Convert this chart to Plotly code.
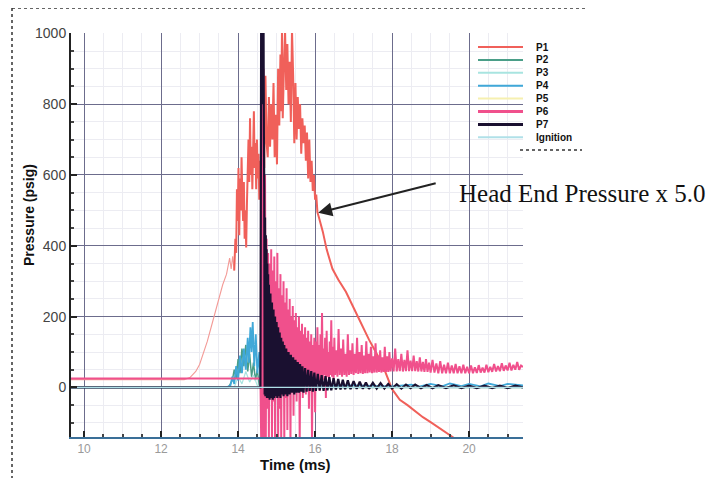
import plotly.graph_objects as go

# time (ms) / pressure (psig) pairs
p1_pts = [(9.66, 22), (12.6, 22), (12.75, 28), (12.9, 45), (13.0, 65), (13.1, 95), (13.2, 130),
          (13.3, 170), (13.4, 210), (13.5, 250), (13.6, 290), (13.7, 320), (13.78, 365), (13.82, 335),
          (13.86, 370), (13.9, 330), (13.93, 420), (13.95, 380), (13.97, 560), (13.99, 470), (14.01, 620),
          (14.03, 430), (14.05, 590), (14.07, 500), (14.09, 650), (14.11, 540), (14.13, 470), (14.15, 580),
          (14.17, 420), (14.19, 500), (14.21, 395), (14.23, 520), (14.25, 610), (14.27, 700), (14.29, 580),
          (14.31, 760), (14.33, 600), (14.35, 680), (14.37, 560), (14.39, 720), (14.41, 780), (14.43, 620),
          (14.45, 690), (14.47, 560), (14.49, 700), (14.51, 590), (14.53, 660), (14.55, 530), (14.57, 640),
          (14.59, 560), (14.62, 700), (14.65, 830), (14.68, 620), (14.71, 880), (14.74, 690), (14.77, 650),
          (14.8, 820), (14.83, 680), (14.86, 800), (14.89, 700), (14.92, 860), (14.95, 650), (14.98, 770),
          (15.01, 630), (15.04, 900), (15.07, 740), (15.1, 940), (15.12, 780), (15.14, 1010), (15.16, 760),
          (15.19, 900), (15.22, 1010), (15.25, 840), (15.28, 970), (15.31, 800), (15.34, 920), (15.37, 750),
          (15.4, 1010), (15.43, 880), (15.46, 690), (15.49, 860), (15.52, 700), (15.55, 820), (15.58, 730),
          (15.61, 800), (15.64, 660), (15.67, 760), (15.7, 690), (15.73, 740), (15.76, 640), (15.79, 720),
          (15.82, 590), (15.85, 700), (15.88, 580), (15.91, 640), (15.94, 555), (15.97, 600), (16.0, 530),
          (16.03, 545), (16.06, 495), (16.1, 480), (16.2, 440), (16.3, 390), (16.45, 335), (16.6, 305),
          (16.8, 270), (17.0, 225), (17.2, 180), (17.4, 135), (17.6, 95), (17.8, 50), (18.0, -5),
          (18.2, -35), (18.4, -50), (18.6, -68), (18.8, -84), (19.0, -98), (19.2, -113), (19.4, -127),
          (19.6, -142)]

p2_pts = [(9.66, 0), (13.75, 0), (13.85, 20), (13.9, 50), (13.95, 25), (14.0, 80), (14.05, 40),
          (14.1, 110), (14.15, 60), (14.2, 120), (14.25, 45), (14.3, 95), (14.35, 30), (14.4, 70),
          (14.45, 20), (14.5, 50), (14.55, 5), (14.6, 0), (21.4, 0)]

p3_pts = [(9.66, 0), (13.9, 0), (14.0, 30), (14.1, 10), (14.2, 45), (14.3, 15), (14.4, 35),
          (14.5, 5), (14.6, 0), (21.4, 0)]

p4_pts = [(9.66, 0), (13.7, 0), (13.8, 5), (13.85, 30), (13.9, 10), (13.95, 60), (14.0, 20),
          (14.05, 90), (14.1, 40), (14.15, 110), (14.2, 50), (14.25, 140), (14.28, 70), (14.32, 170),
          (14.35, 100), (14.38, 185), (14.42, 60), (14.46, 150), (14.5, 40), (14.55, 100), (14.58, 10),
          (14.6, 0), (15.0, 4), (16.0, 2), (17.0, 6), (18.0, 3), (18.5, 8), (18.7, 2), (19.0, 10),
          (19.3, 3), (19.5, 11), (19.8, 4), (20.0, 10), (20.3, 3), (20.5, 11), (20.8, 4), (21.0, 10),
          (21.4, 6)]

p5_pts = [(9.66, 0), (21.4, 0)]

p6_pts = [(9.66, 25), (14.58, 25), (14.6, -150), (14.62, 1050), (14.64, -150), (14.66, 900),
          (14.68, -150), (14.7, 600), (14.72, -150), (14.74, 420), (14.76, -60), (14.78, 380),
          (14.8, -150), (14.82, 350), (14.84, -20), (14.86, 390), (14.88, -150), (14.9, 330),
          (14.92, -40), (14.94, 370), (14.96, -150), (14.98, 300), (15.0, -30), (15.02, 380),
          (15.04, -150), (15.06, 280), (15.08, -60), (15.1, 320), (15.12, -150), (15.14, 260),
          (15.16, -20), (15.18, 300), (15.2, -150), (15.22, 240), (15.24, -30), (15.26, 280),
          (15.28, -120), (15.3, 220), (15.32, 0), (15.34, 250), (15.36, -150), (15.38, 200),
          (15.4, 10), (15.42, 230), (15.44, -80), (15.46, 190), (15.48, 20), (15.5, 210),
          (15.52, -40), (15.54, 170), (15.56, 0), (15.58, 200), (15.6, -150), (15.62, 160),
          (15.64, 20), (15.66, 180), (15.68, -30), (15.7, 150), (15.72, 30), (15.74, 170),
          (15.76, -20), (15.78, 140), (15.8, 10), (15.82, 160), (15.84, -60), (15.86, 130),
          (15.88, 20), (15.9, 150), (15.92, -150), (15.94, 120), (15.96, 30), (15.98, 140),
          (16.0, -70), (16.02, 130), (16.04, 10), (16.06, 170), (16.08, 25), (16.1, 120),
          (16.12, -10), (16.14, 150), (16.16, 30), (16.18, 210), (16.2, 20), (16.22, 110),
          (16.24, 35), (16.26, 140), (16.28, -30), (16.3, 160), (16.32, 30), (16.34, 100),
          (16.36, 25), (16.38, 130), (16.4, 35), (16.42, 190), (16.44, 30), (16.46, 115),
          (16.48, 20), (16.5, 140), (16.52, 35), (16.55, 105), (16.58, 30), (16.61, 165),
          (16.64, 35), (16.67, 110), (16.7, 30), (16.73, 135), (16.76, 35), (16.79, 95),
          (16.82, 30), (16.85, 150), (16.88, 35), (16.91, 105), (16.94, 38), (16.97, 125),
          (17.0, 35), (17.03, 95), (17.06, 40), (17.09, 140), (17.12, 38), (17.15, 100),
          (17.18, 40), (17.21, 120), (17.24, 38), (17.27, 90), (17.3, 40), (17.33, 130),
          (17.36, 40), (17.39, 95), (17.42, 42), (17.45, 115), (17.48, 40), (17.51, 88),
          (17.54, 42), (17.57, 125), (17.6, 42), (17.63, 90), (17.66, 44), (17.69, 105),
          (17.72, 42), (17.75, 85), (17.78, 44), (17.81, 115), (17.84, 44), (17.87, 88),
          (17.9, 44), (17.93, 100), (17.96, 45), (18.0, 82), (18.04, 45), (18.08, 110),
          (18.12, 45), (18.16, 80), (18.2, 46), (18.24, 95), (18.28, 45), (18.32, 78),
          (18.36, 46), (18.4, 105), (18.44, 46), (18.48, 76), (18.52, 46), (18.56, 90),
          (18.6, 46), (18.64, 74), (18.68, 45), (18.72, 85), (18.76, 45), (18.8, 72),
          (18.84, 44), (18.88, 80), (18.92, 44), (18.96, 70), (19.0, 42), (19.05, 78),
          (19.1, 42), (19.15, 68), (19.2, 40), (19.25, 74), (19.3, 40), (19.35, 64),
          (19.4, 40), (19.45, 70), (19.5, 40), (19.55, 62), (19.6, 40), (19.65, 66),
          (19.7, 40), (19.75, 60), (19.8, 40), (19.85, 64), (19.9, 40), (19.95, 58),
          (20.0, 40), (20.05, 62), (20.1, 40), (20.15, 57), (20.2, 41), (20.25, 63),
          (20.3, 42), (20.35, 56), (20.4, 42), (20.45, 64), (20.5, 43), (20.55, 58),
          (20.6, 44), (20.65, 66), (20.7, 45), (20.75, 60), (20.8, 46), (20.85, 68),
          (20.9, 47), (20.95, 62), (21.0, 48), (21.05, 70), (21.1, 48), (21.15, 64),
          (21.2, 50), (21.25, 72), (21.3, 50), (21.35, 62), (21.4, 58)]

p7_pts = [(9.66, 0), (14.58, 0), (14.6, 1050), (14.61, 1050), (14.62, 950), (14.63, 1050),
          (14.64, 1050), (14.65, 800), (14.66, 1050), (14.67, 700), (14.68, 560), (14.69, -20),
          (14.7, 480), (14.71, -25), (14.72, 430), (14.73, -20), (14.74, 390), (14.75, -30),
          (14.76, 350), (14.77, -25), (14.78, 320), (14.79, -30), (14.8, 290), (14.82, -35),
          (14.84, 265), (14.86, -30), (14.88, 240), (14.9, -35), (14.92, 220), (14.94, -30),
          (14.96, 200), (14.98, -25), (15.0, 185), (15.02, -30), (15.04, 170), (15.06, -25),
          (15.08, 155), (15.1, -30), (15.12, 140), (15.14, -20), (15.16, 130), (15.18, -25),
          (15.2, 120), (15.22, -20), (15.25, 110), (15.28, -25), (15.31, 100), (15.34, -20),
          (15.37, 92), (15.4, -15), (15.43, 85), (15.46, -20), (15.49, 78), (15.52, -15),
          (15.55, 72), (15.58, -15), (15.61, 66), (15.64, -12), (15.67, 60), (15.7, -15),
          (15.74, 55), (15.78, -12), (15.82, 50), (15.86, -10), (15.9, 46), (15.94, -12),
          (15.98, 42), (16.02, -10), (16.07, 38), (16.12, -8), (16.17, 35), (16.22, -10),
          (16.27, 32), (16.32, -8), (16.37, 29), (16.42, -8), (16.48, 26), (16.54, -6),
          (16.6, 24), (16.66, -6), (16.72, 22), (16.78, -5), (16.85, 20), (16.92, -5),
          (17.0, 18), (17.08, -4), (17.16, 16), (17.24, -4), (17.32, 14), (17.4, -4),
          (17.5, 13), (17.6, -3), (17.7, 12), (17.8, -3), (17.9, 10), (18.0, -3), (18.12, 9),
          (18.24, -3), (18.36, 8), (18.48, -2), (18.6, 8), (18.75, -2), (18.9, 7), (19.05, -2),
          (19.2, 6), (19.4, -2), (19.6, 6), (19.8, -2), (20.0, 5), (20.2, -2), (20.4, 5),
          (20.6, -2), (20.8, 5), (21.0, -2), (21.2, 5), (21.4, 0)]

ign_pts = [(9.66, 0), (21.4, 0)]

names = ["P1", "P2", "P3", "P4", "P5", "P6", "P7", "Ignition"]
colors = ["#f0605a", "#4a9e88", "#a8e4e0", "#40a8d8", "#f6f0b0", "#f0508c", "#1a1030", "#b0e0e8"]
widths = [2, 1.5, 1.2, 1.8, 1.2, 2, 2.2, 1.2]
series = [p1_pts, p2_pts, p3_pts, p4_pts, p5_pts, p6_pts, p7_pts, ign_pts]

fig = go.Figure()
for name, col, w, pts in zip(names, colors, widths, series):
    if name == "P1":
        # the slow rise before the burst is a faint thin trace on the scan
        rise = [p for p in pts if p[0] <= 13.9]
        t, v = zip(*rise)
        fig.add_trace(go.Scatter(x=t, y=v, mode="lines", name=name,
                                 line=dict(color="#f39a96", width=1.1)))
        pts = [p for p in pts if p[0] >= 13.9]
    t, v = zip(*pts)
    fig.add_trace(go.Scatter(x=t, y=v, mode="lines", name=name,
                             line=dict(color=col, width=w)))

axis_common = dict(
    ticks="inside", ticklen=6, tickwidth=1.5, tickcolor="#222",
    showgrid=True, gridcolor="#6c6c8c", gridwidth=1,
    zeroline=False, showline=True, linewidth=2,
)
fig.update_xaxes(range=[9.66, 21.4], tick0=10, dtick=2, linecolor="#3a6f98",
                 tickfont=dict(family="Arial", size=12, color="#9a9a9a"),
                 minor=dict(dtick=0.5, ticks="inside", ticklen=3, tickcolor="#444",
                            showgrid=True, gridcolor="#ececf2"),
                 **axis_common)
fig.update_yaxes(range=[-140, 1001], tick0=0, dtick=200, linecolor="#222",
                 tickfont=dict(family="Arial", size=14, color="#444"),
                 minor=dict(dtick=50, ticks="inside", ticklen=3, tickcolor="#444",
                            showgrid=True, gridcolor="#ececf2"),
                 **axis_common)

# plot box as seen in the reference (pixels); page body adds an 8px offset
L, W, B, H = 71, 452, 437, 404
OFF = 8


def px(x):
    return (x - L) / W


def py(y):
    return (B - y) / H


shapes = []
annots = []
# hand-made legend, tighter than plotly's own
for i, (name, col) in enumerate(zip(names, colors)):
    yy = py(47 + 12.9 * i)
    shapes.append(dict(type="line", xref="paper", yref="paper", x0=px(478), x1=px(523),
                       y0=yy, y1=yy, line=dict(color=col, width=3 if name in ("P6", "P7") else 2)))
    annots.append(dict(xref="paper", yref="paper", x=px(534), y=yy, xanchor="left", yanchor="middle",
                       text="<b>%s</b>" % name, showarrow=False,
                       font=dict(family="Arial", size=10, color="#111")))

# scan frame lines
shapes.append(dict(type="line", xref="paper", yref="paper", x0=px(12), x1=px(585), y0=py(8), y1=py(8),
                   line=dict(color="#333", width=1.5, dash="dot")))
shapes.append(dict(type="line", xref="paper", yref="paper", x0=px(12), x1=px(12), y0=py(8), y1=py(478),
                   line=dict(color="#333", width=1.5, dash="dot")))
shapes.append(dict(type="line", xref="paper", yref="paper", x0=px(520), x1=px(582), y0=py(150), y1=py(150),
                   line=dict(color="#333", width=1.5, dash="dot")))

annots += [
    dict(xref="paper", yref="paper", x=px(29), y=py(215), xanchor="center", yanchor="middle",
         text="<b>Pressure (psig)</b>", textangle=-90, showarrow=False,
         font=dict(family="Arial", size=14, color="#111")),
    dict(xref="paper", yref="paper", x=px(295), y=py(464), xanchor="center", yanchor="middle",
         text="<b>Time (ms)</b>", showarrow=False,
         font=dict(family="Arial", size=15, color="#111")),
    dict(xref="paper", yref="paper", x=px(457), y=py(193), xanchor="left", yanchor="middle",
         text="Head End Pressure x 5.0", showarrow=False,
         font=dict(family="Liberation Serif", size=25, color="#111")),
    dict(x=16.08, y=493, ax=119, ay=-30, text="", showarrow=True, arrowhead=2,
         arrowsize=1.4, arrowwidth=2, arrowcolor="#222", standoff=0),
]

fig.update_layout(width=717, height=478,
                  margin=dict(l=L - OFF, r=717 - (L - OFF) - W, t=B - H - OFF, b=478 - (B - OFF)),
                  plot_bgcolor="white", paper_bgcolor="white", showlegend=False,
                  shapes=shapes, annotations=annots)

fig.write_html("out.html")
